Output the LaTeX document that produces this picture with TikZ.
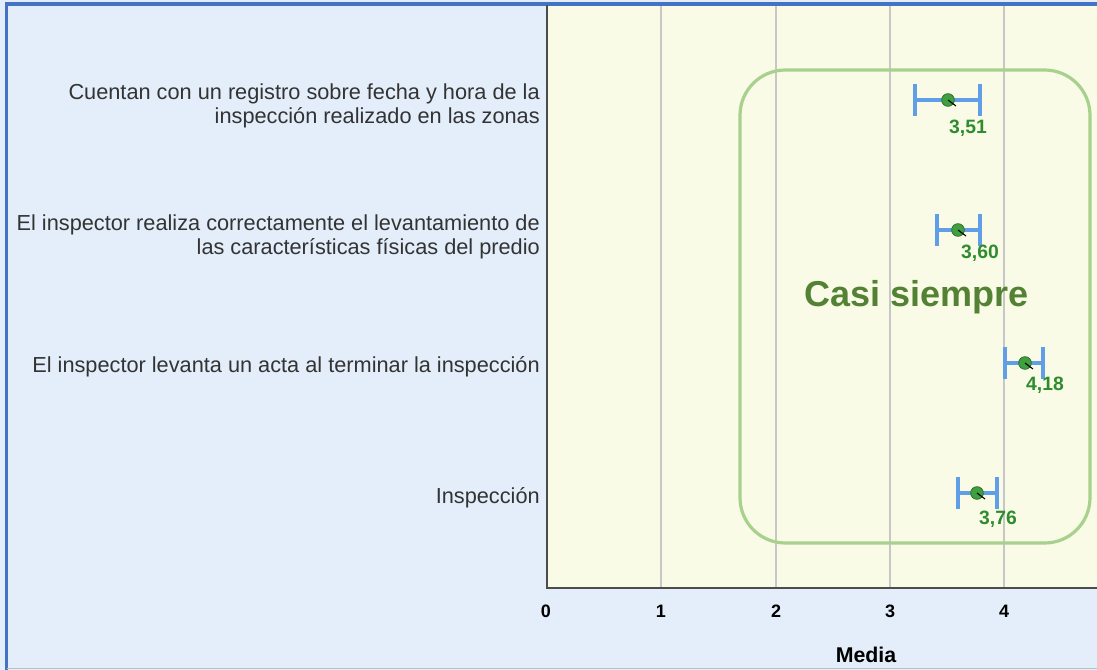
\documentclass[tikz,border=0pt]{standalone}
\usepackage{fontspec}
\setmainfont{Liberation Sans}
\usetikzlibrary{positioning}

\definecolor{fondo}{RGB}{227,238,250}
\definecolor{zona}{RGB}{249,251,231}
\definecolor{marco}{RGB}{68,114,196}
\definecolor{barra}{RGB}{96,158,232}
\definecolor{punto}{RGB}{64,160,64}
\definecolor{valor}{RGB}{46,140,46}
\definecolor{caja}{RGB}{169,209,142}
\definecolor{casi}{RGB}{84,130,53}

\tikzset{
  etiqueta/.style={font=\fontsize{16.3}{18}\selectfont, text=black!80, align=right, anchor=east, inner sep=0pt},
  marca/.style={font=\bfseries\fontsize{13.5}{15}\selectfont, inner sep=0pt, anchor=base},
  media/.style={circle, fill=punto, draw=punto!70!black, line width=0.6pt, minimum size=9.5pt, inner sep=0pt},
  cifra/.style={font=\bfseries\fontsize{14.5}{16}\selectfont, text=valor, inner sep=0pt},
  error/.style={barra, line width=3pt},
  rejilla/.style={black!22, line width=1pt}
}

\begin{document}
\begin{tikzpicture}[x=0.75pt,y=-0.75pt]
\useasboundingbox (0,0) rectangle (1097,670);

% fondos
\fill[fondo] (0,0) rectangle (1097,670);
\fill[zona] (547,5) rectangle (1097,588);
\foreach \gx in {661,776,890,1004}
  \draw[rejilla] (\gx,5) -- (\gx,588);
\draw[marco, line width=2.5pt] (6.5,670) -- (6.5,4) -- (1097,4);
\draw[black!25, line width=1pt] (6.5,668.5) -- (1097,668.5);

% ejes
\draw[black!70, line width=1.2pt] (547,5) -- (547,588) -- (1097,588);
\foreach \v/\gx in {0/546,1/661,2/776,3/890,4/1004}
  \node[marca] (t\v) at (\gx,617) {\v};
\node[font=\bfseries\fontsize{16}{18}\selectfont, inner sep=0pt] (titx) at (866,655) {Media};

% recuadro
\draw[caja, line width=2.4pt, rounded corners=34pt] (740,70) rectangle (1090,543);
\node[font=\bfseries\fontsize{27}{30}\selectfont, text=casi, inner sep=0pt] (casi) at (917,297) {Casi siempre};

% categorias
\node[etiqueta] (c1) at (540,106) {Cuentan con un registro sobre fecha y hora de la\\inspección realizado en las zonas};
\node[etiqueta] (c2) at (540,237) {El inspector realiza correctamente el levantamiento de\\las características físicas del predio};
\node[etiqueta] (c3) at (540,367) {El inspector levanta un acta al terminar la inspección};
\node[etiqueta] (c4) at (540,498) {Inspección};

% medias con intervalos
\foreach \i/\py/\px/\lo/\hi/\lx/\ly/\txt in {
    1/100/948/915/980/968/128/{3,51},
    2/230/958/937/980/980/253/{3,60},
    3/363/1025/1005/1043/1045/385/{4,18},
    4/493/977/958/997/998/519/{3,76}}{
  \coordinate (a\i) at (\lo,\py);
  \coordinate (b\i) at (\hi,\py);
  \draw[error] ([yshift=12pt]a\i) -- ([yshift=-12pt]a\i);
  \draw[error] ([yshift=12pt]b\i) -- ([yshift=-12pt]b\i);
  \draw[error] (a\i) -- (b\i);
  \node[media] (m\i) at (\px,\py) {};
  \node[cifra] (v\i) at (\lx,\ly) {\txt};
  \draw[black, line width=0.8pt] (m\i.center) -- ++(8,6);
}
\end{tikzpicture}
\end{document}
